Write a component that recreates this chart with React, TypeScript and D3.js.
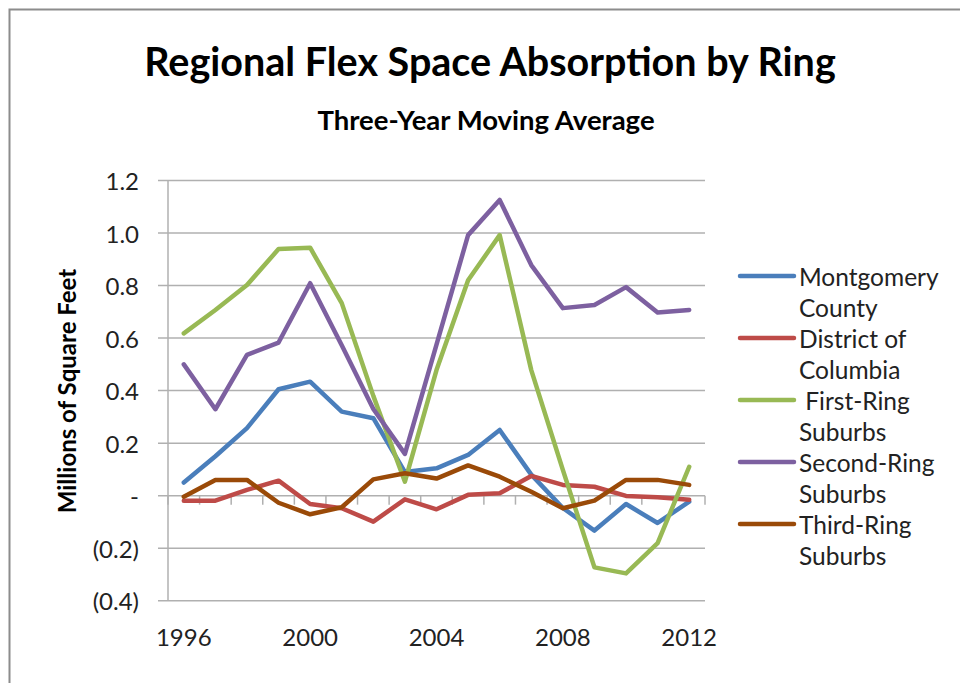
import { useEffect, useRef } from "react";
import * as d3 from "d3";

const YEARS = [1996, 1997, 1998, 1999, 2000, 2001, 2002, 2003, 2004, 2005, 2006, 2007, 2008, 2009, 2010, 2011, 2012];
const MONTGOMERY = [0.05, 0.15, 0.257, 0.405, 0.434, 0.32, 0.295, 0.09, 0.104, 0.155, 0.25, 0.08, -0.047, -0.133, -0.032, -0.104, -0.023];
const DC = [-0.019, -0.019, 0.022, 0.057, -0.032, -0.048, -0.099, -0.014, -0.052, 0.003, 0.009, 0.075, 0.041, 0.034, -0.001, -0.006, -0.016];
const FIRST_RING = [0.618, 0.707, 0.802, 0.939, 0.944, 0.733, 0.38, 0.053, 0.478, 0.82, 0.992, 0.478, 0.098, -0.273, -0.296, -0.181, 0.11];
const SECOND_RING = [0.5, 0.329, 0.536, 0.583, 0.809, 0.573, 0.33, 0.159, 0.575, 0.992, 1.126, 0.878, 0.714, 0.726, 0.794, 0.697, 0.707];
const THIRD_RING = [-0.004, 0.06, 0.06, -0.027, -0.071, -0.044, 0.062, 0.085, 0.065, 0.115, 0.072, 0.015, -0.048, -0.019, 0.06, 0.06, 0.041];

const SERIES = [
  { label: ["Montgomery", "County"], color: "#4a7ebb", values: MONTGOMERY },
  { label: ["District of", "Columbia"], color: "#be4b48", values: DC },
  { label: ["\u00a0First-Ring", "Suburbs"], color: "#98b954", values: FIRST_RING },
  { label: ["Second-Ring", "Suburbs"], color: "#7d60a0", values: SECOND_RING },
  { label: ["Third-Ring", "Suburbs"], color: "#9a4a08", values: THIRD_RING },
];

const Y_TICKS = [-0.4, -0.2, 0, 0.2, 0.4, 0.6, 0.8, 1.0, 1.2];
const X_LABELS = [1996, 2000, 2004, 2008, 2012];

const W = 960;
const H = 683;
const PLOT = { left: 168, right: 705, top: 180.5, bottom: 600.7 };
const FONT = "Lato, 'Open Sans', sans-serif";

function fmtY(v: number) {
  if (Math.abs(v) < 1e-9) return "-";
  const s = Math.abs(v).toFixed(1);
  return v < 0 ? `(${s})` : s;
}

export default function App() {
  const svgRef = useRef<SVGSVGElement>(null);

  useEffect(() => {
    const svg = d3.select(svgRef.current);
    svg.selectAll("*").remove();
    svg.attr("width", W).attr("height", H).attr("viewBox", `0 0 ${W} ${H}`);

    svg.append("rect").attr("width", W).attr("height", H).attr("fill", "#ffffff");

    // chart frame
    svg.append("rect")
      .attr("x", 9.5)
      .attr("y", 9.5)
      .attr("width", W + 20)
      .attr("height", H + 20)
      .attr("fill", "none")
      .attr("stroke", "#8c8c8c")
      .attr("stroke-width", 2);

    const x = d3.scaleBand<number>().domain(YEARS).range([PLOT.left, PLOT.right]).padding(0);
    const cx = (yr: number) => (x(yr) ?? 0) + x.bandwidth() / 2;
    const y = d3.scaleLinear().domain([-0.4, 1.2]).range([PLOT.bottom, PLOT.top]);

    // gridlines + y ticks
    Y_TICKS.forEach((t) => {
      svg.append("line")
        .attr("x1", PLOT.left - 10)
        .attr("x2", PLOT.right)
        .attr("y1", y(t))
        .attr("y2", y(t))
        .attr("stroke", "#b0b0b0")
        .attr("stroke-width", 1.5);

      svg.append("text")
        .attr("x", 139)
        .attr("y", y(t))
        .attr("text-anchor", "end")
        .attr("dominant-baseline", "central")
        .attr("font-family", FONT)
        .attr("font-size", "24px")
        .attr("fill", "#222")
        .text(fmtY(t));
    });

    // y axis line
    svg.append("line")
      .attr("x1", PLOT.left)
      .attr("x2", PLOT.left)
      .attr("y1", PLOT.top)
      .attr("y2", PLOT.bottom)
      .attr("stroke", "#b0b0b0")
      .attr("stroke-width", 1.5);

    // category axis at zero with ticks between categories
    const y0 = y(0);
    const bounds = YEARS.map((yr) => x(yr) ?? 0).concat([PLOT.right]);
    bounds.forEach((bx) => {
      svg.append("line")
        .attr("x1", bx)
        .attr("x2", bx)
        .attr("y1", y0)
        .attr("y2", y0 + 9)
        .attr("stroke", "#b0b0b0")
        .attr("stroke-width", 1.5);
    });

    X_LABELS.forEach((yr) => {
      svg.append("text")
        .attr("x", cx(yr))
        .attr("y", 646)
        .attr("text-anchor", "middle")
        .attr("font-family", FONT)
        .attr("font-size", "24px")
        .attr("fill", "#222")
        .text(String(yr));
    });

    // lines
    const lineGen = d3.line<number>()
      .x((_, i) => cx(YEARS[i]))
      .y((d) => y(d));

    SERIES.forEach((s) => {
      svg.append("path")
        .datum(s.values)
        .attr("d", lineGen)
        .attr("fill", "none")
        .attr("stroke", s.color)
        .attr("stroke-width", 4.5)
        .attr("stroke-linejoin", "round")
        .attr("stroke-linecap", "round");
    });

    // titles
    svg.append("text")
      .attr("x", 490)
      .attr("y", 76)
      .attr("text-anchor", "middle")
      .attr("font-family", FONT)
      .attr("font-weight", "bold")
      .attr("font-size", "39.5px")
      .attr("fill", "#000")
      .text("Regional Flex Space Absorption by Ring");

    svg.append("text")
      .attr("x", 486)
      .attr("y", 130)
      .attr("text-anchor", "middle")
      .attr("font-family", FONT)
      .attr("font-weight", "bold")
      .attr("font-size", "27.5px")
      .attr("fill", "#000")
      .text("Three-Year Moving Average");

    svg.append("text")
      .attr("transform", `translate(76,391) rotate(-90)`)
      .attr("text-anchor", "middle")
      .attr("font-family", FONT)
      .attr("font-weight", "bold")
      .attr("font-size", "24px")
      .attr("fill", "#000")
      .text("Millions of Square Feet");

    // legend
    const legend = svg.append("g");
    SERIES.forEach((s, i) => {
      const ly = 276 + i * 62;
      legend.append("line")
        .attr("x1", 740)
        .attr("x2", 794)
        .attr("y1", ly)
        .attr("y2", ly)
        .attr("stroke", s.color)
        .attr("stroke-width", 4.5)
        .attr("stroke-linecap", "round");
      s.label.forEach((t, j) => {
        legend.append("text")
          .attr("x", 799)
          .attr("y", ly + j * 31)
          .attr("dominant-baseline", "central")
          .attr("font-family", FONT)
          .attr("font-size", "24.5px")
          .attr("fill", "#222")
          .text(t);
      });
    });
  }, []);

  return (
    <svg ref={svgRef} style={{ position: "absolute", left: 0, top: 0, display: "block" }} />
  );
}
